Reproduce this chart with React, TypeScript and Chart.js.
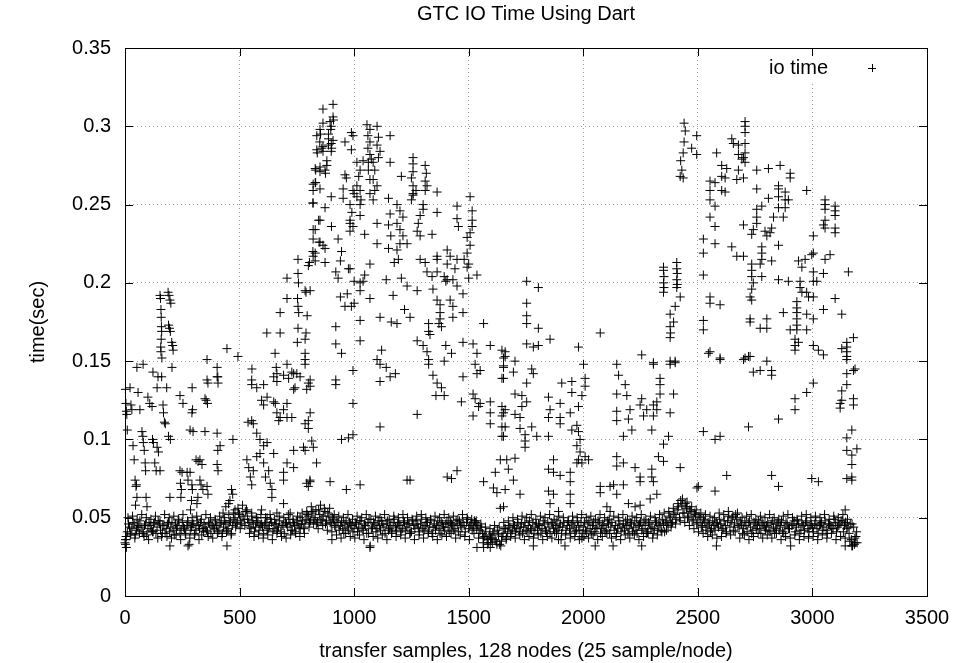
import React, { useEffect, useRef } from "react";
import { Chart, registerables } from "chart.js";

Chart.register(...registerables);

const TITLE = "GTC IO Time Using Dart";
const X_LABEL = "transfer samples, 128 nodes (25 sample/node)";
const Y_LABEL = "time(sec)";
const SERIES_NAME = "io time";

const xTickValues = [0, 500, 1000, 1500, 2000, 2500, 3000, 3500];
const xTickLabels = ["0", "500", "1000", "1500", "2000", "2500", "3000", "3500"];
const yTickValues = [0, 0.05, 0.1, 0.15, 0.2, 0.25, 0.3, 0.35];
const yTickLabels = ["0", "0.05", "0.1", "0.15", "0.2", "0.25", "0.3", "0.35"];

// dense baseline band: one value every BAND_STEP samples (bandA at 0,10,..., bandB at 5,15,..., bandC at 3,13,...)
const BAND_STEP = 10;
const bandA = [
  0.034,0.041,0.044,0.043,0.046,0.042,0.045,0.044,0.040,0.046,0.043,0.045,0.041,0.047,0.044,0.046,0.038,0.045,0.043,0.047,
  0.044,0.042,0.046,0.045,0.040,0.047,0.043,0.045,0.033,0.044,0.046,0.042,0.045,0.047,0.043,0.044,0.041,0.046,0.045,0.043,
  0.045,0.042,0.047,0.044,0.046,0.043,0.048,0.045,0.050,0.047,0.052,0.046,0.049,0.055,0.047,0.043,0.046,0.044,0.048,0.045,
  0.044,0.046,0.042,0.045,0.047,0.043,0.046,0.044,0.041,0.045,0.047,0.044,0.046,0.042,0.045,0.048,0.044,0.046,0.043,0.049,
  0.051,0.048,0.054,0.050,0.047,0.052,0.049,0.056,0.048,0.051,0.046,0.049,0.044,0.047,0.045,0.043,0.046,0.044,0.047,0.045,
  0.043,0.046,0.044,0.048,0.042,0.045,0.047,0.032,0.044,0.046,0.043,0.045,0.048,0.044,0.046,0.042,0.045,0.047,0.044,0.046,
  0.045,0.043,0.047,0.044,0.046,0.041,0.045,0.048,0.044,0.046,0.043,0.045,0.047,0.044,0.040,0.046,0.045,0.043,0.047,0.044,
  0.046,0.044,0.047,0.045,0.043,0.046,0.048,0.044,0.045,0.047,0.043,0.046,0.044,0.047,0.045,0.042,0.040,0.038,0.036,0.039,
  0.037,0.041,0.035,0.039,0.032,0.040,0.043,0.041,0.044,0.042,0.045,0.043,0.041,0.046,0.044,0.042,0.045,0.043,0.047,0.044,
  0.042,0.045,0.043,0.046,0.041,0.044,0.047,0.043,0.045,0.042,0.046,0.044,0.032,0.045,0.043,0.046,0.044,0.042,0.045,0.047,
  0.044,0.042,0.046,0.043,0.045,0.041,0.044,0.047,0.043,0.045,0.042,0.046,0.044,0.032,0.045,0.043,0.046,0.044,0.042,0.045,
  0.043,0.046,0.044,0.042,0.045,0.047,0.043,0.045,0.041,0.046,0.044,0.043,0.047,0.045,0.042,0.046,0.048,0.045,0.050,0.047,
  0.052,0.055,0.050,0.058,0.053,0.056,0.051,0.054,0.049,0.052,0.047,0.050,0.045,0.048,0.044,0.046,0.043,0.045,0.047,0.044,
  0.046,0.043,0.045,0.048,0.044,0.050,0.046,0.049,0.044,0.046,0.043,0.045,0.047,0.044,0.042,0.046,0.045,0.043,0.047,0.044,
  0.045,0.042,0.046,0.044,0.043,0.047,0.045,0.041,0.044,0.046,0.043,0.045,0.048,0.044,0.046,0.042,0.045,0.047,0.043,0.045,
  0.044,0.046,0.043,0.045,0.047,0.044,0.042,0.046,0.045,0.043,0.047,0.044,0.046,0.048,0.045,0.043,0.040,0.036,0.044,0.038,
];
const bandB = [
  0.038,0.046,0.040,0.047,0.039,0.044,0.048,0.041,0.045,0.039,0.047,0.042,0.046,0.040,0.048,0.042,0.045,0.040,0.046,0.041,
  0.047,0.039,0.043,0.048,0.042,0.044,0.039,0.047,0.042,0.046,0.040,0.048,0.043,0.039,0.046,0.042,0.047,0.040,0.044,0.048,
  0.041,0.046,0.040,0.048,0.042,0.047,0.040,0.049,0.046,0.053,0.048,0.051,0.054,0.049,0.044,0.048,0.041,0.047,0.042,0.046,
  0.040,0.047,0.043,0.049,0.041,0.046,0.042,0.048,0.045,0.040,0.046,0.049,0.042,0.047,0.040,0.046,0.043,0.048,0.046,0.052,
  0.047,0.053,0.049,0.046,0.055,0.048,0.051,0.046,0.053,0.047,0.050,0.045,0.048,0.042,0.047,0.040,0.048,0.042,0.046,0.041,
  0.047,0.041,0.048,0.043,0.046,0.040,0.049,0.043,0.047,0.041,0.048,0.042,0.046,0.040,0.048,0.043,0.041,0.049,0.042,0.047,
  0.041,0.048,0.042,0.046,0.040,0.048,0.043,0.046,0.041,0.049,0.042,0.047,0.041,0.048,0.044,0.042,0.048,0.040,0.046,0.042,
  0.048,0.041,0.046,0.042,0.048,0.041,0.045,0.047,0.041,0.049,0.045,0.042,0.048,0.043,0.040,0.044,0.037,0.041,0.034,0.037,
  0.040,0.036,0.042,0.033,0.038,0.043,0.037,0.045,0.040,0.046,0.041,0.047,0.044,0.040,0.047,0.041,0.048,0.042,0.040,0.046,
  0.046,0.040,0.048,0.042,0.047,0.040,0.046,0.041,0.048,0.044,0.040,0.047,0.042,0.048,0.040,0.047,0.041,0.048,0.042,0.040,
  0.047,0.041,0.048,0.040,0.047,0.043,0.048,0.040,0.046,0.041,0.048,0.040,0.047,0.042,0.040,0.048,0.041,0.046,0.048,0.040,
  0.047,0.041,0.048,0.040,0.046,0.042,0.048,0.040,0.047,0.043,0.040,0.048,0.042,0.046,0.049,0.041,0.047,0.051,0.046,0.053,
  0.049,0.057,0.061,0.053,0.059,0.050,0.055,0.048,0.053,0.046,0.051,0.044,0.049,0.042,0.047,0.041,0.048,0.042,0.046,0.049,
  0.042,0.048,0.041,0.051,0.047,0.042,0.052,0.045,0.048,0.040,0.047,0.041,0.048,0.040,0.047,0.043,0.048,0.040,0.046,0.042,
  0.047,0.041,0.048,0.040,0.046,0.042,0.048,0.040,0.047,0.043,0.032,0.046,0.041,0.048,0.040,0.046,0.042,0.048,0.041,0.046,
  0.041,0.048,0.040,0.046,0.042,0.048,0.040,0.046,0.043,0.049,0.041,0.045,0.048,0.041,0.047,0.044,0.046,0.032,0.037,0.034,
];
const bandC = [
  0.036,0.050,0.039,0.051,0.037,0.049,0.040,0.052,0.038,0.050,0.036,0.049,0.041,0.051,0.037,0.048,0.040,0.052,0.038,0.050,
  0.037,0.051,0.039,0.049,0.036,0.052,0.040,0.048,0.037,0.050,0.039,0.051,0.036,0.049,0.041,0.052,0.038,0.050,0.037,0.049,
  0.040,0.051,0.038,0.050,0.041,0.052,0.039,0.053,0.044,0.056,0.043,0.058,0.045,0.054,0.040,0.051,0.038,0.050,0.039,0.052,
  0.037,0.050,0.039,0.052,0.036,0.049,0.040,0.051,0.038,0.050,0.037,0.052,0.039,0.049,0.041,0.051,0.038,0.053,0.040,0.054,
  0.044,0.057,0.046,0.055,0.043,0.058,0.045,0.054,0.042,0.056,0.041,0.052,0.039,0.051,0.037,0.050,0.040,0.052,0.038,0.049,
  0.037,0.051,0.039,0.050,0.036,0.052,0.040,0.049,0.038,0.051,0.037,0.050,0.039,0.052,0.036,0.049,0.040,0.051,0.038,0.050,
  0.039,0.052,0.037,0.050,0.040,0.049,0.036,0.051,0.039,0.052,0.037,0.050,0.040,0.049,0.038,0.051,0.036,0.050,0.039,0.052,
  0.038,0.050,0.040,0.051,0.037,0.049,0.039,0.052,0.038,0.050,0.036,0.049,0.040,0.048,0.037,0.046,0.034,0.044,0.033,0.043,
  0.034,0.045,0.033,0.044,0.035,0.047,0.036,0.048,0.038,0.050,0.037,0.049,0.039,0.051,0.036,0.050,0.038,0.052,0.037,0.049,
  0.039,0.051,0.036,0.050,0.038,0.052,0.037,0.049,0.040,0.051,0.036,0.050,0.039,0.048,0.037,0.051,0.038,0.050,0.036,0.052,
  0.038,0.050,0.037,0.051,0.039,0.049,0.036,0.052,0.038,0.050,0.040,0.049,0.037,0.051,0.038,0.050,0.036,0.052,0.039,0.049,
  0.037,0.051,0.039,0.050,0.036,0.052,0.038,0.049,0.040,0.051,0.037,0.050,0.039,0.052,0.041,0.053,0.042,0.054,0.044,0.056,
  0.046,0.059,0.048,0.062,0.047,0.060,0.045,0.057,0.043,0.055,0.041,0.053,0.040,0.052,0.038,0.051,0.039,0.050,0.037,0.053,
  0.038,0.052,0.040,0.054,0.039,0.051,0.041,0.053,0.037,0.050,0.039,0.051,0.036,0.052,0.038,0.049,0.040,0.051,0.037,0.050,
  0.039,0.052,0.037,0.050,0.040,0.049,0.036,0.051,0.038,0.052,0.037,0.050,0.039,0.049,0.036,0.051,0.038,0.052,0.037,0.050,
  0.038,0.051,0.036,0.050,0.039,0.052,0.037,0.049,0.040,0.051,0.036,0.050,0.038,0.052,0.037,0.049,0.035,0.046,0.033,0.041,
];

// [sample, seconds]
const bandOutliers: [number, number][] = [
  [2,0.033],[4,0.036],[6,0.031],[196,0.032],[275,0.032],[445,0.032],[903,0.036],[1069,0.031],[1536,0.031],[1565,0.031],
  [1594,0.031],[1994,0.037],[2052,0.032],[1782,0.032],[2255,0.032],[1892,0.036],[2581,0.032],[3143,0.032],[3172,0.032],[3186,0.034],
];

const earlyBurst: [number, number][] = [
  [2,0.132],[4,0.123],[6,0.118],[8,0.116],[10,0.106],
  [22,0.133],[26,0.122],[30,0.119],[35,0.096],[40,0.087],[44,0.074],[48,0.070],[52,0.063],[46,0.058],[50,0.071],
  [74,0.105],[78,0.102],[80,0.098],[84,0.093],[88,0.085],[90,0.080],[92,0.063],[96,0.057],
  [100,0.127],[108,0.123],[118,0.121],[120,0.100],[124,0.098],[130,0.085],[136,0.080],[153,0.080],[140,0.095],[146,0.092],
  [57,0.130],[65,0.119],[144,0.140],[160,0.140],[182,0.133],[140,0.133],
  [166,0.122],[168,0.117],[172,0.111],[176,0.110],[190,0.102],[198,0.100],
  [240,0.128],[253,0.123],[297,0.105],[284,0.106],[293,0.133],[295,0.119],[292,0.117],[358,0.138],[362,0.136],[402,0.140],
  [406,0.136],[349,0.126],[354,0.125],[360,0.123],[349,0.105],[402,0.104],[405,0.093],[415,0.096],[471,0.100],
  [240,0.080],[249,0.079],[242,0.072],[246,0.068],[244,0.063],[271,0.079],[275,0.074],[284,0.079],[292,0.071],[294,0.068],
  [290,0.061],[286,0.055],[319,0.086],[336,0.084],[327,0.074],[332,0.071],[340,0.068],[318,0.063],[314,0.059],[358,0.070],
  [362,0.065],[402,0.084],[406,0.080],[310,0.087],[327,0.087],[196,0.063],
  [428,0.053],[440,0.057],[452,0.059],[465,0.068],[470,0.065],[458,0.061],[480,0.055],
  [153,0.192],[155,0.190],[157,0.183],[158,0.178],[159,0.172],[160,0.169],[158,0.164],[156,0.159],[157,0.156],[161,0.152],
  [188,0.194],[192,0.192],[196,0.189],[200,0.187],[190,0.173],[194,0.171],[198,0.169],[204,0.162],[208,0.160],[210,0.157],
  [358,0.151],[445,0.158],[493,0.153],[402,0.146],[405,0.140],[52,0.146],[79,0.148],[122,0.143],[205,0.146],
];

const rampUp: [number, number][] = [
  [554,0.145],[655,0.155],[660,0.146],[663,0.142],[707,0.148],[728,0.143],[750,0.142],
  [619,0.168],[677,0.168],[677,0.181],[707,0.190],[707,0.203],
  [755,0.215],[755,0.206],[757,0.200],[753,0.190],[755,0.185],[758,0.181],[755,0.171],[752,0.162],
  [786,0.195],[790,0.194],[800,0.211],[805,0.213],[795,0.179],[790,0.168],[786,0.164],[786,0.155],[786,0.151],[786,0.148],
  [820,0.220],[830,0.234],[820,0.251],[832,0.264],[845,0.240],[847,0.226],
  [553,0.138],[553,0.135],[575,0.133],[605,0.135],[620,0.127],[649,0.140],[663,0.137],[692,0.141],[714,0.139],[736,0.142],
  [764,0.140],[800,0.136],[793,0.132],[742,0.133],[736,0.132],
  [537,0.111],[553,0.112],[560,0.110],[596,0.125],[605,0.122],[575,0.104],[589,0.100],[605,0.096],[620,0.098],[649,0.124],
  [656,0.123],[663,0.117],[671,0.112],[677,0.114],[692,0.119],[707,0.114],[707,0.123],[728,0.114],[786,0.110],[800,0.112],
  [532,0.087],[540,0.082],[547,0.076],[553,0.071],[560,0.080],[575,0.089],[589,0.091],[605,0.085],[613,0.076],[627,0.080],
  [634,0.072],[641,0.068],[641,0.063],[649,0.091],[692,0.079],[692,0.074],[707,0.085],[736,0.093],[736,0.082],[779,0.095],
  [786,0.093],[793,0.072],[800,0.070],[692,0.059],
  [553,0.053],[575,0.050],[596,0.055],[620,0.050],[663,0.053],[721,0.053],[764,0.050],
  [800,0.107],[815,0.099],[822,0.095],[836,0.085],[807,0.074],[808,0.138],[808,0.134],[808,0.117],[808,0.073],
];

const peakOne: [number, number][] = [
  [908,0.314],[864,0.311],[908,0.306],[910,0.304],[895,0.303],[900,0.300],[898,0.298],[864,0.302],[851,0.298],[853,0.295],
  [888,0.295],[888,0.292],[888,0.288],[837,0.294],[850,0.290],[864,0.287],[908,0.291],[859,0.286],[900,0.289],[902,0.286],
  [837,0.285],[839,0.283],[864,0.284],[900,0.284],[881,0.278],[881,0.275],[830,0.273],[832,0.272],[851,0.271],[873,0.272],
  [875,0.270],[830,0.264],[851,0.260],[821,0.251],[900,0.255],[873,0.248],[851,0.240],[821,0.234],[864,0.224],[873,0.222],
  [830,0.219],[830,0.214],[851,0.226],[930,0.228],[945,0.220],[940,0.214],[920,0.207],[930,0.203],[975,0.209],[988,0.296],
  [988,0.285],[960,0.290],[960,0.269],[966,0.267],[952,0.260],[952,0.254],
  [1012,0.277],[1026,0.272],[1020,0.268],[1012,0.262],[1026,0.259],[1012,0.255],[1030,0.253],[995,0.259],[1000,0.257],
  [982,0.250],[990,0.245],[982,0.240],[995,0.236],[1026,0.250],[1026,0.243],[982,0.238],
  [1056,0.301],[1069,0.298],[1060,0.294],[1069,0.290],[1060,0.286],[1069,0.282],[1075,0.279],[1062,0.277],[1062,0.272],[1069,0.266],
  [1100,0.300],[1106,0.293],[1100,0.288],[1113,0.284],[1106,0.280],[1083,0.277],[1090,0.272],[1083,0.266],[1100,0.262],[1090,0.259],
  [1069,0.257],[1083,0.253],[1157,0.294],[1157,0.277],[1039,0.278],[995,0.294],[851,0.274],[821,0.263],[821,0.259],[901,0.236],
  [821,0.217],[873,0.213],[821,0.228],[982,0.233],[1046,0.231],[1100,0.238],[1100,0.225],[1046,0.205],[1069,0.212],
  [1150,0.254],[1157,0.244],[1150,0.237],[1160,0.230],[1150,0.222],
  [1187,0.250],[1200,0.246],[1213,0.242],[1187,0.238],[1200,0.234],[1213,0.230],[1200,0.225],[1187,0.221],[1193,0.215],[1175,0.213],
  [1231,0.225],[1206,0.268],
  [1257,0.280],[1257,0.276],[1257,0.271],[1250,0.267],[1257,0.262],[1270,0.259],[1257,0.256],[1250,0.253],
  [1310,0.275],[1315,0.270],[1310,0.265],[1318,0.262],[1310,0.259],[1257,0.257],
  [1288,0.243],[1280,0.238],[1275,0.233],[1288,0.230],[1301,0.250],[1301,0.247],[1362,0.258],[1362,0.245],[1340,0.231],[1288,0.215],
  [1310,0.213],[1362,0.217],[1362,0.215],[1318,0.207],[1340,0.204],
  [1449,0.249],[1449,0.241],[1455,0.236],[1506,0.255],[1515,0.246],[1515,0.240],[1515,0.236],[1506,0.232],[1493,0.229],[1506,0.224],
  [1493,0.219],[1480,0.215],[1500,0.212],[1493,0.210],
  [1406,0.221],[1419,0.217],[1406,0.212],[1449,0.215],[1440,0.209],[1393,0.204],[1406,0.202],[1400,0.201],[1431,0.202],[1449,0.198],
  [1500,0.203],[1536,0.205],[1362,0.207],[1206,0.203],[1231,0.198],[1140,0.202],[1039,0.201],[1000,0.201],[982,0.209],
];

const midFall: [number, number][] = [
  [808,0.195],[940,0.191],[970,0.193],[960,0.185],[988,0.185],[1000,0.187],[1026,0.176],[920,0.172],[920,0.161],[1026,0.163],
  [945,0.155],[920,0.138],[920,0.135],[995,0.144],[995,0.123],[995,0.103],[945,0.100],[975,0.101],[895,0.073],[966,0.068],[1026,0.071],
  [1026,0.200],[1026,0.195],[1069,0.190],[1113,0.178],[1120,0.157],[1100,0.151],[1113,0.148],[1140,0.146],[1157,0.140],[1180,0.142],
  [1113,0.137],[1113,0.108],
  [1162,0.175],[1187,0.174],[1220,0.183],[1244,0.178],[1275,0.195],[1170,0.192],[1231,0.074],[1244,0.074],[1275,0.116],
  [1275,0.163],[1301,0.160],[1318,0.156],[1325,0.151],[1325,0.148],[1344,0.141],[1325,0.174],[1325,0.169],[1331,0.167],
  [1344,0.196],[1362,0.189],[1375,0.186],[1375,0.181],[1375,0.177],[1381,0.172],[1370,0.174],
  [1362,0.136],[1381,0.133],[1393,0.128],[1357,0.128],[1400,0.160],[1393,0.150],
  [1419,0.189],[1431,0.185],[1431,0.178],[1425,0.155],[1475,0.193],[1475,0.181],[1475,0.162],[1475,0.140],[1468,0.124],
  [1406,0.076],[1425,0.075],[1449,0.080],
  [1519,0.161],[1536,0.155],[1528,0.148],[1550,0.144],[1536,0.142],[1519,0.129],[1528,0.126],[1550,0.123],[1519,0.115],[1543,0.121],
  [1565,0.174],[1594,0.160],[1594,0.124],[1594,0.117],[1594,0.110],[1645,0.121],[1645,0.115],[1645,0.108],[1645,0.102],
  [1645,0.157],[1652,0.152],[1652,0.146],[1645,0.139],
  [1638,0.087],[1616,0.079],[1608,0.069],[1638,0.056],[1565,0.073],[1623,0.066],
];

const valley: [number, number][] = [
  [1753,0.201],[1804,0.197],[1753,0.187],[1753,0.179],[1753,0.174],[1804,0.171],[1855,0.164],[1753,0.161],[1782,0.159],[1804,0.160],
  [1979,0.159],[2074,0.168],[2255,0.154],[1659,0.156],[1659,0.153],[1702,0.150],
  [2350,0.210],[2350,0.208],[2352,0.204],[2350,0.200],[2352,0.197],[2350,0.194],
  [2408,0.213],[2408,0.209],[2410,0.206],[2408,0.202],[2410,0.199],[2408,0.197],
  [2423,0.191],[2401,0.185],[2379,0.180],[2394,0.175],[2379,0.172],[2381,0.168],[2379,0.165],
  [2379,0.150],[2401,0.150],[2306,0.149],[1775,0.145],
  [1652,0.147],[1695,0.143],[1652,0.139],[1702,0.129],[1732,0.128],[1732,0.121],[1753,0.124],[1659,0.119],[1652,0.117],[1702,0.116],
  [1724,0.114],[1659,0.108],[1724,0.107],[1652,0.102],[1746,0.103],[1746,0.099],[1746,0.095],[1666,0.087],[1702,0.088],[1673,0.081],
  [1695,0.074],[1659,0.068],[1724,0.065],[1652,0.057],[1797,0.102],[1775,0.108],[1848,0.102],[1782,0.142],[1753,0.136],
  [1848,0.127],[1855,0.119],[1848,0.114],[1899,0.123],[1899,0.114],[1899,0.110],[1906,0.136],[1950,0.137],[1950,0.130],
  [1943,0.117],[1950,0.106],[1972,0.109],[1979,0.105],[1986,0.100],[1972,0.096],[1986,0.092],[1979,0.087],[2008,0.089],[1994,0.085],
  [1972,0.085],[2023,0.087],[2001,0.148],[2008,0.139],[2008,0.134],[1994,0.128],[1979,0.121],
  [1870,0.087],[1848,0.081],[1870,0.079],[1899,0.077],[1943,0.079],[1943,0.073],
  [1848,0.067],[1870,0.065],[1943,0.065],[1943,0.059],[1855,0.059],[1892,0.054],
  [2146,0.148],[2154,0.141],[2183,0.135],[2146,0.129],[2190,0.128],[2255,0.126],[2146,0.118],[2204,0.119],[2248,0.122],[2277,0.119],
  [2306,0.122],[2321,0.119],[2263,0.115],[2306,0.115],[2197,0.113],[2146,0.112],[2212,0.106],[2175,0.102],[2299,0.106],[2379,0.117],
  [2306,0.148],[2335,0.139],[2335,0.135],[2335,0.129],[2321,0.124],[2394,0.129],[2379,0.148],[2401,0.149],[2372,0.102],[2350,0.097],
  [2146,0.089],[2146,0.083],[2175,0.085],[2226,0.082],[2328,0.089],[2350,0.086],[2423,0.082],[2248,0.076],[2248,0.073],[2299,0.081],
  [2299,0.076],[2306,0.073],[2074,0.070],[2117,0.070],[2132,0.071],[2146,0.065],[2175,0.071],[2074,0.066],
  [2103,0.057],[2117,0.054],[2197,0.059],[2226,0.057],[2248,0.058],[2292,0.062],[2321,0.065],[2452,0.057],[2496,0.069],
];

const peakTwo: [number, number][] = [
  [2440,0.302],[2445,0.297],[2440,0.290],[2436,0.283],[2425,0.278],[2430,0.272],[2436,0.267],[2423,0.268],
  [2495,0.294],[2473,0.286],[2495,0.282],
  [2706,0.303],[2706,0.300],[2706,0.296],[2706,0.289],[2706,0.283],[2699,0.280],[2706,0.277],
  [2648,0.292],[2655,0.289],[2677,0.288],[2677,0.282],[2692,0.279],[2582,0.283],
  [2604,0.275],[2626,0.273],[2604,0.268],[2619,0.267],[2553,0.265],[2575,0.264],[2553,0.259],[2604,0.259],[2619,0.258],[2677,0.272],
  [2670,0.266],[2699,0.267],
  [2757,0.272],[2808,0.273],[2859,0.275],[2903,0.270],[2903,0.267],[2757,0.260],[2852,0.262],[2852,0.260],[2881,0.258],[2975,0.259],
  [2553,0.253],[2575,0.249],[2553,0.242],[2575,0.236],
  [2808,0.254],[2852,0.255],[2881,0.253],[2895,0.253],[2852,0.248],[2881,0.248],[2830,0.242],[2873,0.242],
  [2757,0.247],[2779,0.249],[2757,0.242],[2757,0.238],[2699,0.237],[2742,0.234],[2735,0.231],[2793,0.233],[2815,0.232],[2822,0.235],
  [2801,0.230],[2524,0.228],[2524,0.219],[2575,0.225],[2648,0.223],[2670,0.217],[2699,0.217],[2852,0.224],
  [2779,0.223],[2779,0.219],[2779,0.215],[2772,0.212],[2735,0.212],[2735,0.208],[2735,0.204],[2779,0.204],[2822,0.214],
  [2735,0.196],[2728,0.191],[2735,0.189],[2742,0.200],[2728,0.177],[2728,0.175],[2801,0.177],[2772,0.171],[2801,0.171],
  [2524,0.205],[2852,0.202],[2895,0.201],[2946,0.201],[2946,0.197],[3004,0.207],[3004,0.201],[3019,0.201],[3048,0.206],
  [2939,0.214],[2968,0.215],[2997,0.218],[3004,0.219],[3055,0.215],[3077,0.218],[2954,0.210],
  [3055,0.253],[3055,0.250],[3055,0.247],[3055,0.240],[3048,0.237],[3055,0.235],[3099,0.249],[3099,0.246],[3099,0.243],[3099,0.235],
  [3099,0.232],[3004,0.230],[3157,0.207],
  [2954,0.194],[2983,0.191],[3004,0.191],[2975,0.194],[2553,0.191],[2553,0.187],[2597,0.186],
  [2932,0.188],[2932,0.184],[2932,0.181],[2975,0.180],[3004,0.177],[2932,0.177],[2932,0.173],[2903,0.170],[2932,0.170],[2975,0.170],
  [2924,0.164],[2924,0.160],[2939,0.162],[3004,0.160],[3026,0.157],[3048,0.154],
  [2873,0.181],[3048,0.183],[3099,0.190],[3128,0.180],[2524,0.176],[2524,0.170],
  [2553,0.156],[2597,0.152],[2706,0.152],[2721,0.153],[3150,0.162],[3150,0.159],[3150,0.156],[3179,0.165],[3128,0.158],
  [2546,0.155],[2597,0.151],[2699,0.151],[2728,0.153],[2801,0.150],[2742,0.143],[2772,0.144],[2822,0.144],[2822,0.141],[2924,0.157],
  [3004,0.136],[2975,0.130],[2924,0.126],[2924,0.119],[2852,0.113],[2721,0.108],[2524,0.105],[2575,0.100],[2597,0.102],
  [3150,0.153],[3150,0.151],[3150,0.142],[3179,0.144],[3186,0.145],[3150,0.135],[3128,0.131],[3128,0.125],[3121,0.123],[3121,0.120],
  [3179,0.126],[3179,0.122],
  [3172,0.106],[3150,0.101],[3150,0.093],[3194,0.094],[3172,0.090],[3172,0.084],[3150,0.075],[3172,0.076],[3172,0.074],
  [2502,0.070],[2575,0.067],[2626,0.077],[2822,0.077],[2852,0.070],[2997,0.075],[3026,0.073],[3143,0.055],
];

const FONT_FAMILY = "'Liberation Sans', Arial, Helvetica, sans-serif";

function buildPoints() {
  const pts: { x: number; y: number }[] = [];
  bandA.forEach((y, i) => pts.push({ x: i * BAND_STEP, y }));
  bandB.forEach((y, i) => pts.push({ x: i * BAND_STEP + 5, y }));
  bandC.forEach((y, i) => pts.push({ x: i * BAND_STEP + 3, y }));
  for (const group of [bandOutliers, earlyBurst, rampUp, peakOne, midFall, valley, peakTwo]) {
    for (const [x, y] of group) pts.push({ x, y });
  }
  return pts;
}

const framePlugin = {
  id: "gnuplotFrame",
  beforeDatasetsDraw(chart: any) {
    const ctx = chart.ctx;
    const a = chart.chartArea;
    ctx.save();
    ctx.fillStyle = "#fff";
    ctx.fillRect(a.right - 170, a.top + 8, 165, 26);
    ctx.restore();
  },
  afterDraw(chart: any) {
    const ctx = chart.ctx as CanvasRenderingContext2D;
    const a = chart.chartArea;
    const xs = chart.scales.x;
    const ys = chart.scales.y;
    ctx.save();
    ctx.strokeStyle = "#000";
    ctx.lineWidth = 1;
    ctx.beginPath();
    const T = 8;
    for (const v of xTickValues) {
      const px = Math.round(xs.getPixelForValue(v)) + 0.5;
      ctx.moveTo(px, a.bottom); ctx.lineTo(px, a.bottom - T);
      ctx.moveTo(px, a.top); ctx.lineTo(px, a.top + T);
    }
    for (const v of yTickValues) {
      const py = Math.round(ys.getPixelForValue(v)) + 0.5;
      ctx.moveTo(a.left, py); ctx.lineTo(a.left + T, py);
      ctx.moveTo(a.right, py); ctx.lineTo(a.right - T, py);
    }
    ctx.stroke();
    ctx.strokeRect(Math.round(a.left) + 0.5, Math.round(a.top) + 0.5, Math.round(a.right - a.left), Math.round(a.bottom - a.top));

    ctx.fillStyle = "#000";
    ctx.font = `20px ${FONT_FAMILY}`;
    ctx.textAlign = "center";
    ctx.textBaseline = "middle";
    const cx = (a.left + a.right) / 2;
    ctx.fillText(TITLE, cx, 14);
    ctx.fillText(X_LABEL, cx, 651);
    ctx.save();
    ctx.translate(38, (a.top + a.bottom) / 2);
    ctx.rotate(-Math.PI / 2);
    ctx.fillText(Y_LABEL, 0, 0);
    ctx.restore();

    // legend
    const ly = a.top + 20;
    ctx.textAlign = "right";
    ctx.fillText(SERIES_NAME, a.right - 99, ly);
    const lx = a.right - 55;
    ctx.beginPath();
    ctx.moveTo(lx - 4, ly + 0.5); ctx.lineTo(lx + 4, ly + 0.5);
    ctx.moveTo(lx + 0.5, ly - 4); ctx.lineTo(lx + 0.5, ly + 4);
    ctx.stroke();
    ctx.restore();
  },
};

export default function App() {
  const ref = useRef<HTMLCanvasElement>(null);
  useEffect(() => {
    if (!ref.current) return;
    Chart.defaults.font.family = FONT_FAMILY;
    const chart = new Chart(ref.current, {
      type: "scatter",
      data: {
        datasets: [
          {
            label: SERIES_NAME,
            data: buildPoints(),
            pointStyle: "cross",
            pointRadius: 4.5,
            pointHoverRadius: 4.5,
            pointBorderWidth: 1,
            borderColor: "#000",
            backgroundColor: "#000",
            pointBorderColor: "#000",
            clip: false as any,
          } as any,
        ],
      },
      options: {
        responsive: false,
        animation: false,
        devicePixelRatio: 1,
        events: [],
        layout: { padding: { top: 48, right: 34, left: 0, bottom: 0 } },
        plugins: {
          legend: { display: false },
          title: { display: false },
          tooltip: { enabled: false },
        },
        scales: {
          x: {
            type: "linear",
            min: 0,
            max: 3500,
            afterBuildTicks: (s: any) => {
              s.ticks = xTickValues.map((value) => ({ value }));
            },
            afterFit: (s: any) => {
              s.height = 67;
            },
            ticks: {
              callback: (_v: any, i: number) => xTickLabels[i],
              font: { size: 20, family: FONT_FAMILY },
              color: "#000",
              padding: 10,
              maxRotation: 0,
              autoSkip: false,
            },
            grid: { color: "#a0a0a0", lineWidth: 1, drawTicks: false },
            border: { display: false, dash: [1, 3] },
          },
          y: {
            type: "linear",
            min: 0,
            max: 0.35,
            afterBuildTicks: (s: any) => {
              s.ticks = yTickValues.map((value) => ({ value }));
            },
            afterFit: (s: any) => {
              s.width = 125;
            },
            ticks: {
              callback: (_v: any, i: number) => yTickLabels[i],
              font: { size: 20, family: FONT_FAMILY },
              color: "#000",
              padding: 14,
              autoSkip: false,
            },
            grid: { color: "#a0a0a0", lineWidth: 1, drawTicks: false },
            border: { display: false, dash: [1, 3] },
          },
        },
      },
      plugins: [framePlugin],
    } as any);
    return () => chart.destroy();
  }, []);
  return (
    <div style={{ position: "fixed", left: 0, top: 0, width: 961, height: 663, background: "#fff" }}>
      <canvas ref={ref} width={961} height={663} style={{ display: "block", width: 961, height: 663 }} />
    </div>
  );
}
